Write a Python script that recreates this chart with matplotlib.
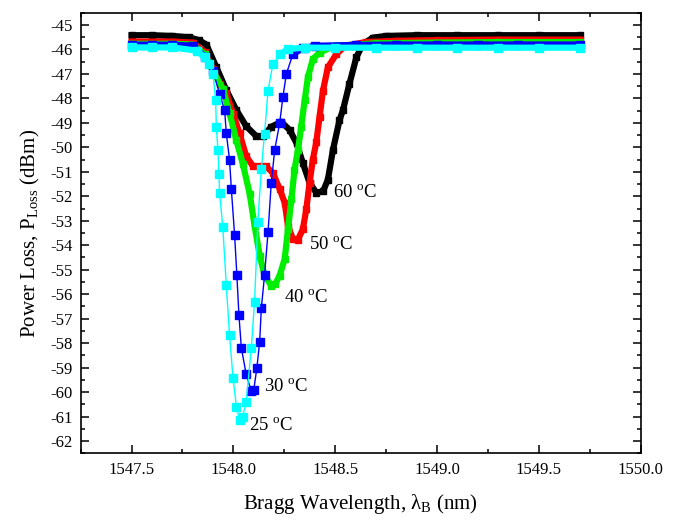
import numpy as np
import matplotlib
matplotlib.use("Agg")
import matplotlib.pyplot as plt
from matplotlib.ticker import MultipleLocator

plt.rcParams["font.family"] = ["Liberation Serif", "DejaVu Serif"]
plt.rcParams["mathtext.fontset"] = "custom"
plt.rcParams["mathtext.rm"] = "Liberation Serif"
plt.rcParams["mathtext.it"] = "Liberation Serif:italic"

# wavelength (nm) / power loss (dBm)
x_60 = [1547.50, 1547.60, 1547.70, 1547.78, 1547.83, 1547.867, 1547.916, 1547.965, 1548.014,
        1548.063, 1548.112, 1548.145, 1548.186, 1548.235, 1548.276, 1548.31, 1548.341, 1548.374,
        1548.407, 1548.44, 1548.464, 1548.489, 1548.521, 1548.538, 1548.57, 1548.604, 1548.636,
        1548.685, 1548.75, 1548.9, 1549.1, 1549.3, 1549.5, 1549.7]
y_60 = [-45.42, -45.42, -45.45, -45.50, -45.62, -45.80, -46.72, -47.66, -48.47,
        -49.14, -49.54, -49.55, -49.16, -48.96, -49.29, -49.83, -50.64, -51.45,
        -51.85, -51.80, -51.32, -50.10, -48.89, -48.48, -47.40, -46.32, -45.78,
        -45.52, -45.45, -45.42, -45.42, -45.42, -45.42, -45.42]

x_50 = [1547.50, 1547.70, 1547.80, 1547.86, 1547.90, 1547.935, 1547.965, 1547.998, 1548.03,
        1548.063, 1548.096, 1548.13, 1548.161, 1548.194, 1548.227, 1548.252, 1548.268, 1548.292,
        1548.315, 1548.341, 1548.358, 1548.374, 1548.39, 1548.407, 1548.423, 1548.44, 1548.464,
        1548.505, 1548.55, 1548.65, 1548.8, 1549.0, 1549.3, 1549.7]
y_50 = [-45.68, -45.68, -45.72, -46.10, -46.80, -47.40, -47.80, -48.62, -49.43,
        -50.37, -50.77, -50.78, -50.78, -51.05, -51.70, -52.27, -53.20, -53.75,
        -53.80, -53.35, -52.53, -51.45, -50.50, -49.80, -48.75, -47.68, -46.73,
        -46.20, -45.85, -45.70, -45.65, -45.62, -45.60, -45.60]

x_40 = [1547.50, 1547.70, 1547.80, 1547.86, 1547.90, 1547.948, 1547.981, 1548.014, 1548.047,
        1548.08, 1548.104, 1548.129, 1548.153, 1548.186, 1548.205, 1548.227, 1548.252, 1548.268,
        1548.285, 1548.30, 1548.317, 1548.333, 1548.35, 1548.366, 1548.39, 1548.423, 1548.5,
        1548.7, 1549.0, 1549.3, 1549.7]
y_40 = [-45.77, -45.77, -45.80, -46.20, -46.90, -47.60, -48.60, -49.70, -50.70,
        -51.90, -53.20, -54.42, -55.24, -55.65, -55.60, -55.24, -54.56, -53.34,
        -52.13, -50.92, -50.10, -49.16, -48.08, -47.14, -46.40, -46.13, -45.85,
        -45.75, -45.72, -45.70, -45.70]

x_30 = [1547.50, 1547.60, 1547.70, 1547.80, 1547.86, 1547.90, 1547.932, 1547.957, 1547.965,
        1547.981, 1547.99, 1548.006, 1548.017, 1548.027, 1548.039, 1548.063, 1548.088, 1548.10,
        1548.115, 1548.129, 1548.137, 1548.153, 1548.17, 1548.186, 1548.203, 1548.227, 1548.243,
        1548.26, 1548.292, 1548.34, 1548.4, 1548.6, 1548.8, 1549.0, 1549.2, 1549.4, 1549.7]
y_30 = [-45.81, -45.81, -45.81, -45.85, -46.30, -46.90, -47.81, -48.48, -49.42,
        -50.50, -51.72, -53.60, -55.22, -56.84, -58.20, -59.28, -59.97, -59.90,
        -59.03, -57.94, -56.58, -55.22, -53.47, -51.45, -50.10, -49.02, -47.95,
        -47.00, -46.20, -45.95, -45.85, -45.82, -45.80, -45.80, -45.80, -45.80, -45.80]

x_25 = [1547.50, 1547.60, 1547.70, 1547.82, 1547.86, 1547.88, 1547.90, 1547.913, 1547.916,
        1547.924, 1547.929, 1547.932, 1547.948, 1547.965, 1547.981, 1547.998, 1548.015, 1548.03,
        1548.045, 1548.063, 1548.088, 1548.104, 1548.12, 1548.137, 1548.153, 1548.17, 1548.194,
        1548.227, 1548.27, 1548.35, 1548.5, 1548.7, 1548.9, 1549.1, 1549.3, 1549.5, 1549.7]
y_25 = [-45.92, -45.92, -45.92, -46.05, -46.33, -46.60, -47.00, -48.08, -49.16,
        -50.10, -51.07, -51.85, -53.27, -55.63, -57.66, -59.42, -60.60, -61.13,
        -61.00, -60.40, -58.20, -56.30, -53.07, -50.90, -49.44, -47.68, -46.60,
        -46.20, -45.98, -45.93, -45.93, -45.93, -45.93, -45.93, -45.93, -45.93, -45.93]

temps = ["60", "50", "40", "30", "25"]
label_x = [1548.487, 1548.371, 1548.248, 1548.150, 1548.076]
label_y = [-52.03, -54.15, -56.31, -59.94, -61.56]

fig = plt.figure(figsize=(6.82, 5.2), dpi=100)
ax = fig.add_axes([0.1183, 0.1283, 0.8211, 0.8473])

# dense curves (markers merge into a thick band)
for xs, ys, c in [(x_60, y_60, "black"), (x_50, y_50, "red"), (x_40, y_40, "#00ee00")]:
    ax.plot(xs, ys, color=c, lw=4.5, marker="s", ms=5, solid_joinstyle="round")

# sparser curves: thin line + square markers, thick band along the flat baseline
for xs, ys, c in [(x_30, y_30, "#0000ff"), (x_25, y_25, "#00ffff")]:
    xs = np.array(xs)
    ys = np.array(ys)
    flat = np.ma.masked_where(ys < -46.4, ys)
    ax.plot(xs, flat, color=c, lw=4.5, solid_capstyle="butt")
    ax.plot(xs, ys, color=c, lw=1.0, marker="s", ms=5.5, mec=c)

for t, lx, ly in zip(temps, label_x, label_y):
    ax.text(lx, ly, t + r" $^{\mathrm{o}}$C", fontsize=13.5, ha="left", va="baseline")

ax.set_xlim(1547.25, 1550.0)
ax.set_ylim(-62.5, -44.5)
ax.xaxis.set_major_locator(MultipleLocator(0.5))
ax.xaxis.set_minor_locator(MultipleLocator(0.25))
ax.yaxis.set_major_locator(MultipleLocator(1))
ax.yaxis.set_minor_locator(MultipleLocator(0.5))
ax.xaxis.set_major_formatter(plt.FuncFormatter(lambda v, p: f"{v:.1f}"))
ax.yaxis.set_major_formatter(plt.FuncFormatter(lambda v, p: f"-{abs(v):.0f}"))
ax.tick_params(which="both", direction="in", top=True, right=True, labelsize=12, width=1.1)
ax.tick_params(which="major", length=6, pad=6)
ax.tick_params(which="minor", length=3)
for s in ax.spines.values():
    s.set_linewidth(1.2)

ax.set_xlabel("Bragg Wavelength, λ$_{\\mathrm{B}}$ (nm)", fontsize=15, labelpad=10)
ax.set_ylabel(r"Power Loss, P$_{\mathrm{Loss}}$ (dBm)", fontsize=15, labelpad=6)

fig.savefig("out.png", dpi=100)
